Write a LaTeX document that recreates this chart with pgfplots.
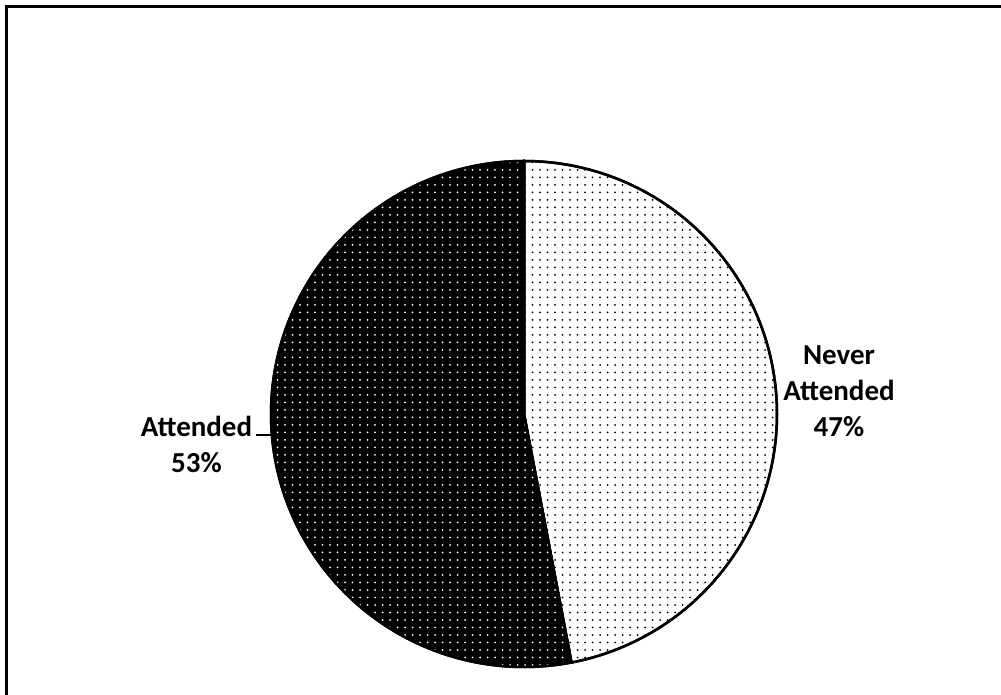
\documentclass[border=0pt]{standalone}
\usepackage{pgfplots}
\pgfplotsset{compat=1.18}
\usepackage{pgfplotstable}
\usetikzlibrary{patterns.meta}
\usepackage{fontspec}
\setmainfont{Carlito}
\newcommand\lblfont{\fontsize{29}{35}\selectfont\bfseries}

\pgfplotstableread{
label value
Never 47
Attended 53
}\piedata

\begin{document}%
\begin{tikzpicture}%
\pgfplotstablegetelem{0}{value}\of\piedata%
\pgfmathsetmacro\neverval{\pgfplotsretval}%
\pgfplotstablegetelem{1}{value}\of\piedata%
\pgfmathsetmacro\attval{\pgfplotsretval}%
\pgfmathsetmacro\splitang{90-3.6*\neverval}%
\pgfmathsetmacro\attend{90+3.6*\attval}%
\begin{axis}[scale only axis, width=1001pt, height=695pt,
  xmin=0, xmax=1001, ymin=0, ymax=695, hide axis, clip=false]
% Never Attended (light, black dots)
\addplot[draw=black, line width=2.5pt, fill=white,
  postaction={pattern={Dots[distance=7.5pt,radius=1pt]}, pattern color=black},
  domain=\splitang:90, samples=140]
  ({524+253*cos(x)},{281+253*sin(x)}) -- (axis cs:524,281) -- cycle;
% Attended (dark, white dots)
\addplot[draw=black, line width=2.5pt, fill=black,
  postaction={pattern={Dots[distance=7.5pt,radius=1pt]}, pattern color=white},
  domain=90:\attend, samples=140]
  ({524+253*cos(x)},{281+253*sin(x)}) -- (axis cs:524,281) -- cycle;
% frame (top and left only)
\draw[line width=2.6pt] (axis cs:6.5,0) -- (axis cs:6.5,688.5) -- (axis cs:1001,688.5);
% labels
\node[anchor=base, font=\lblfont] at (axis cs:839,330) {Never};
\node[anchor=base, font=\lblfont] at (axis cs:839,294) {Attended};
\node[anchor=base, font=\lblfont] at (axis cs:839,258) {\neverval\%};
\node[anchor=base, font=\lblfont] at (axis cs:196.5,258) {Attended};
\node[anchor=base, font=\lblfont] at (axis cs:196.5,222) {\attval\%};
\draw[line width=1.5pt] (axis cs:256,260) -- (axis cs:272,260);
\coordinate (bbsw) at (axis cs:0,0);
\coordinate (bbne) at (axis cs:1001,695);
\end{axis}
\pgfresetboundingbox
\path (bbsw) rectangle (bbne);
\end{tikzpicture}%
\end{document}
